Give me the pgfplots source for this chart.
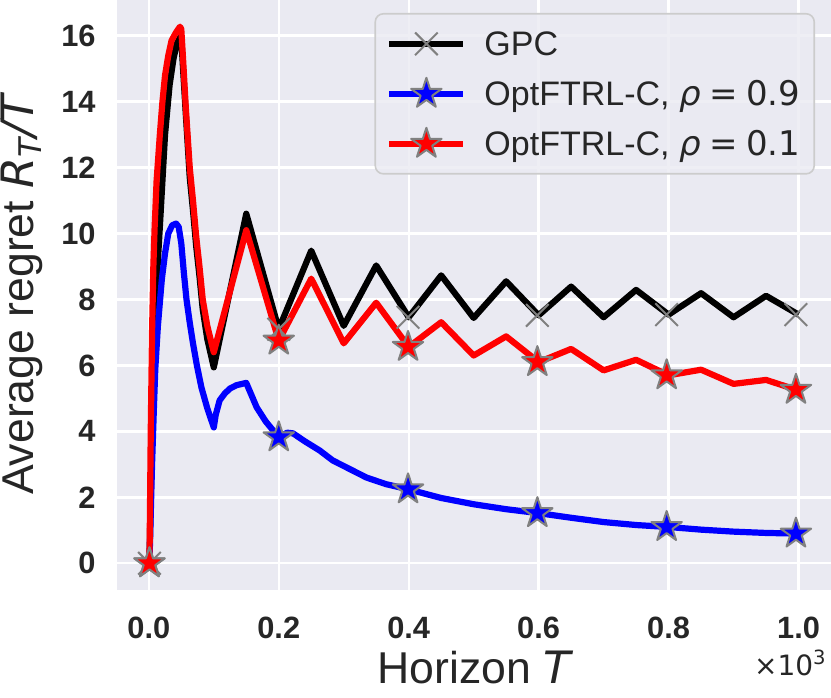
\documentclass[border=0pt]{standalone}
\usepackage{pgfplots}
\pgfplotsset{compat=1.18}
\usepackage{fontspec}
\setmainfont{Liberation Sans}
\newfontfamily\dv{DejaVu Sans}
\definecolor{axbg}{HTML}{EAEAF2}
\definecolor{txt}{HTML}{262626}
\definecolor{mk}{HTML}{808080}
\definecolor{legedge}{HTML}{CCCCCC}
\pgfdeclareplotmark{fstar}{%
  \pgfpathmoveto{\pgfpointpolar{90}{\pgfplotmarksize}}%
  \pgfpathlineto{\pgfpointpolar{126}{0.382\pgfplotmarksize}}%
  \pgfpathlineto{\pgfpointpolar{162}{\pgfplotmarksize}}%
  \pgfpathlineto{\pgfpointpolar{198}{0.382\pgfplotmarksize}}%
  \pgfpathlineto{\pgfpointpolar{234}{\pgfplotmarksize}}%
  \pgfpathlineto{\pgfpointpolar{270}{0.382\pgfplotmarksize}}%
  \pgfpathlineto{\pgfpointpolar{306}{\pgfplotmarksize}}%
  \pgfpathlineto{\pgfpointpolar{342}{0.382\pgfplotmarksize}}%
  \pgfpathlineto{\pgfpointpolar{18}{\pgfplotmarksize}}%
  \pgfpathlineto{\pgfpointpolar{54}{0.382\pgfplotmarksize}}%
  \pgfpathclose
  \pgfusepathqfillstroke}
\newcommand{\rhoeq}[1]{{\dv\itshape ρ}\hspace{0.25em}{\dv =}\hspace{0.25em}{\dv #1}}
\begin{document}
\begin{tikzpicture}
\path[use as bounding box] (-58.5pt,-53.5pt) rectangle (357pt,295pt);
\begin{axis}[
  at={(0pt,0pt)}, anchor=south west,
  scale only axis, width=357pt, height=295pt,
  xmin=-48.95, xmax=1049.95, ymin=-0.81, ymax=17.08,
  axis background/.style={fill=axbg},
  axis line style={draw=none},
  major tick length=0pt,
  grid=major, major grid style={white, line width=1.2pt},
  xtick={0,200,400,600,800,1000},
  xticklabels={0.0,0.2,0.4,0.6,0.8,1.0},
  ytick={0,2,4,6,8,10,12,14,16},
  /pgf/number format/assume math mode=true,
  tick label style={font=\fontsize{15.4}{18}\selectfont\bfseries, text=txt},
  xticklabel style={anchor=base, yshift=-24pt, inner sep=0pt},
  yticklabel style={anchor=east, xshift=-10.5pt, inner sep=0pt},
  xlabel={Horizon {\dv\itshape T}},
  ylabel={Average regret {\dv\itshape R}\textsubscript{\dv\itshape T}{\dv\itshape /T}},
  label style={font=\fontsize{22.3}{26}\selectfont, text=txt},
  xlabel style={at={(axis description cs:0.5,0)}, anchor=base, yshift=-46.5pt, inner sep=0pt},
  ylabel style={at={(axis description cs:-0.1176,0.5)}, anchor=base, inner sep=0pt},
  legend style={at={(axis description cs:1,1)}, anchor=north east, xshift=-8pt, yshift=-6.5pt,
    draw=legedge, line width=0.8pt, rounded corners=4pt, fill=axbg, fill opacity=0.8, text opacity=1,
    font=\fontsize{17}{20}\selectfont, text=txt,
    inner xsep=5.5pt, inner ysep=6.6pt, row sep=8.2pt,
    nodes={inner sep=0pt, text height=14.5pt, text depth=2.3pt, anchor=west}},
  legend cell align=left,
  legend image code/.code={\draw[sharp corners,mark repeat=2,mark phase=2,#1] plot coordinates {(0pt,0pt) (18.5pt,0pt) (37pt,0pt)};},
  line join=round,
]
\addlegendimage{black, line width=3.1pt, mark=x, mark size=8pt, mark options={draw=mk, line width=1pt, solid, sharp corners}}
\addlegendentry{\hspace*{9pt}GPC}
\addlegendimage{blue, line width=3.1pt, mark=fstar, mark size=8pt, mark options={fill=blue, fill opacity=1, draw=mk, line width=1pt, solid, sharp corners}}
\addlegendentry{\hspace*{9pt}OptFTRL-C, \rhoeq{0.9}\hspace*{1.5pt}}
\addlegendimage{red, line width=3.1pt, mark=fstar, mark size=8pt, mark options={fill=red, fill opacity=1, draw=mk, line width=1pt, solid, sharp corners}}
\addlegendentry{\hspace*{9pt}OptFTRL-C, \rhoeq{0.1}\hspace*{1.5pt}}

% GPC
\addplot[black, line width=3.1pt, forget plot] coordinates {
(1,0) (4,3.2) (8,6.5) (12,8.5) (17,10.2) (21,11.6) (25,13.0) (32,14.5) (38,15.3) (43,15.75) (48,15.95)
(50,15.9) (53,14.9) (57,13.6) (63,11.7) (68,10.7) (73,9.6) (78,8.7) (83,7.7) (90,6.8) (100,5.94)
(150,10.6) (200,7.1) (250,9.48) (300,7.2) (350,9.03) (400,7.46) (450,8.73) (500,7.44) (550,8.55)
(600,7.52) (650,8.39) (700,7.46) (750,8.29) (800,7.54) (850,8.19) (900,7.46) (950,8.11) (1000,7.54)
};
\addplot[only marks, mark=x, mark size=8pt, mark options={draw=mk, line width=1pt}, forget plot] coordinates {
(1,0) (200,7.1) (399,7.46) (598,7.52) (797,7.54) (996,7.54)
};

% OptFTRL-C rho=0.9
\addplot[blue, line width=3.1pt, forget plot] coordinates {
(1,0) (3,1.5) (5,3.0) (8,4.8) (10,5.9) (14,7.2) (20,8.6) (25,9.4) (30,10.0) (36,10.25) (42,10.3)
(46,10.2) (50,9.7) (54,8.8) (58,8.0) (63,7.3) (68,6.67) (74,6.0) (81,5.33) (90,4.7) (100,4.12)
(103,4.5) (109,4.94) (117,5.15) (125,5.3) (135,5.4) (150,5.47) (166,4.73) (180,4.3) (200,3.82)
(205,3.88) (213,3.96) (222,3.94) (240,3.7) (263,3.42) (283,3.12) (310,2.85) (335,2.6) (365,2.4)
(400,2.24) (450,1.98) (500,1.79) (550,1.64) (600,1.52) (650,1.38) (700,1.25) (750,1.16) (800,1.1)
(850,1.02) (900,0.96) (950,0.92) (1000,0.9)
};
\addplot[only marks, mark=fstar, mark size=8pt, mark options={fill=blue, draw=mk, line width=1pt}, forget plot] coordinates {
(1,0) (200,3.82) (399,2.24) (598,1.52) (797,1.1) (996,0.9)
};

% OptFTRL-C rho=0.1
\addplot[red, line width=3.1pt, forget plot] coordinates {
(1,0) (3,4) (5,7) (7,9) (9,10.2) (12,11.6) (17,13.0) (21,14.0) (25,14.8) (30,15.4) (35,15.85) (42,16.1) (48,16.27)
(50,16.2) (53,15.2) (57,13.8) (63,12.0) (68,11.0) (73,9.9) (78,9.0) (83,8.0) (90,7.2) (100,6.4)
(150,10.1) (200,6.75) (250,8.63) (300,6.67) (350,7.9) (400,6.56) (450,7.31) (500,6.3) (550,6.88)
(600,6.1) (650,6.5) (700,5.85) (750,6.17) (800,5.7) (850,5.87) (900,5.44) (950,5.56) (1000,5.24)
};
\addplot[only marks, mark=fstar, mark size=8pt, mark options={fill=red, draw=mk, line width=1pt}, forget plot] coordinates {
(1,0) (200,6.75) (399,6.56) (598,6.1) (797,5.7) (996,5.26)
};
\end{axis}
\node[anchor=base east, font=\dv\fontsize{14}{16}\selectfont, text=txt, inner sep=0pt] at (355pt,-42.5pt) {×10\textsuperscript{3}};
\end{tikzpicture}
\end{document}
